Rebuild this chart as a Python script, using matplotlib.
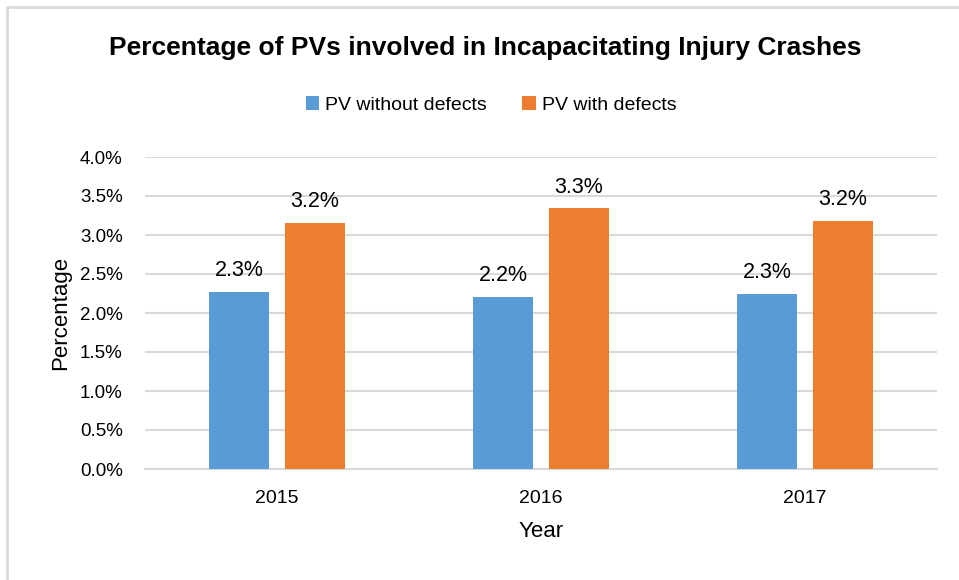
import numpy as np
import matplotlib.pyplot as plt
from matplotlib.lines import Line2D

years = ["2015", "2016", "2017"]
without_defects = [2.27, 2.21, 2.25]
with_defects = [3.16, 3.34, 3.18]
without_labels = ["2.3%", "2.2%", "2.3%"]
with_labels = ["3.2%", "3.3%", "3.2%"]

plt.rcParams['font.family'] = ['Liberation Sans', 'DejaVu Sans']

blue = "#5b9bd5"
orange = "#ed7d31"
grid_col = "#d9d9d9"

fig = plt.figure(figsize=(9.59, 5.8), dpi=100)
# chart frame: only left and top edges are visible in the crop
fig.lines.append(Line2D([7 / 959, 7 / 959, 1.0], [0.0, 1 - 7 / 580, 1 - 7 / 580],
                        transform=fig.transFigure, color=grid_col, linewidth=2))

ax = fig.add_axes([145 / 959, 1 - 469 / 580, (937 - 145) / 959, (469 - 157) / 580])

x = np.arange(len(years))
w = 0.227
off = (w + 0.06) / 2
b1 = ax.bar(x - off, without_defects, w, color=blue, label="PV without defects", zorder=3)
b2 = ax.bar(x + off, with_defects, w, color=orange, label="PV with defects", zorder=3)

# value labels above bars
for bars, labs in ((b1, without_labels), (b2, with_labels)):
    for rect, lab in zip(bars, labs):
        ax.text(rect.get_x() + rect.get_width() / 2, rect.get_height() + 0.14, lab,
                ha="center", va="bottom", fontsize=15.5)

ax.set_xlim(-0.5, 2.5)
ax.set_ylim(0, 4.0)
ticks = np.arange(0, 4.01, 0.5)
ax.set_yticks(ticks)
ax.set_yticklabels([f"{v:.1f}%" for v in ticks])
ax.set_xticks(x)
ax.set_xticklabels(years)
ax.tick_params(axis="y", length=0, pad=16, labelsize=13.5)
ax.tick_params(axis="x", length=0, pad=15, labelsize=14)
ax.yaxis.grid(True, color=grid_col, linewidth=1.5, zorder=0)
for s in ("top", "right", "left"):
    ax.spines[s].set_visible(False)
ax.spines["bottom"].set_color(grid_col)
ax.spines["bottom"].set_linewidth(1.5)

ax.set_xlabel("Year", fontsize=16, labelpad=10)
ax.set_ylabel("Percentage", fontsize=16, labelpad=6)

fig.text(0.506, 1 - 48 / 580, "Percentage of PVs involved in Incapacitating Injury Crashes",
         ha="center", va="center", fontsize=19, fontweight="bold")
fig.legend(handles=[b1, b2], loc="center", bbox_to_anchor=(0.512, 1 - 105 / 580), ncol=2,
           frameon=False, fontsize=14, handlelength=0.7, handleheight=0.7,
           handletextpad=0.3, columnspacing=1.8)

fig.savefig("out.png", dpi=100)
